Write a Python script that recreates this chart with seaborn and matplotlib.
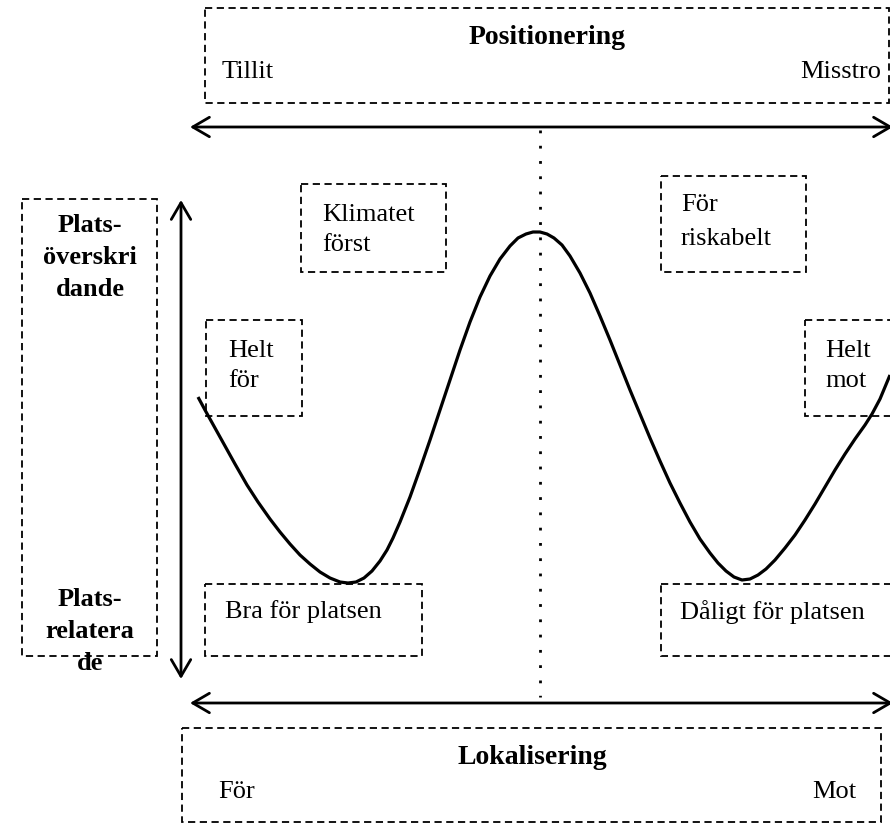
import matplotlib
matplotlib.use("Agg")
import matplotlib.pyplot as plt
import seaborn as sns
from matplotlib.patches import Rectangle, FancyArrowPatch

sns.set_theme(style="white")
plt.rcParams['font.family'] = ['Liberation Serif', 'DejaVu Serif']
plt.rcParams['text.color'] = 'black'

# Curve (pixel coordinates, y downward)
curve_x = [198, 205, 215, 225, 235, 247, 258, 270, 280, 290, 300, 310, 320, 330, 340,
           348, 356, 364, 372, 380, 387, 393, 400, 410, 420, 430, 440, 450, 460, 470,
           480, 490, 500, 510, 518, 526, 533, 540, 547, 554, 562, 570, 580, 590, 600,
           610, 620, 630, 640, 650, 660, 670, 680, 690, 700, 710, 718, 726, 734, 742,
           750, 758, 766, 775, 785, 795, 805, 815, 825, 835, 845, 855, 865, 872, 880,
           890]
curve_y = [397, 410, 428, 446, 464, 485, 502, 519, 532, 544, 555, 564, 572, 578, 582,
           583, 582, 578, 571, 561, 550, 538, 522, 497, 469, 440, 410, 380, 350, 322,
           297, 276, 259, 246, 238, 234, 232, 232, 234, 238, 245, 256, 273, 293, 316,
           340, 365, 390, 414, 438, 461, 483, 503, 522, 539, 553, 563, 571, 577, 580,
           579, 575, 569, 560, 548, 535, 520, 504, 487, 470, 454, 439, 425, 414, 399,
           375]

# Box labels
top_title = "Positionering"
top_left, top_right = "Tillit", "Misstro"
bottom_title = "Lokalisering"
bottom_left, bottom_right = "För", "Mot"
axis_top = "Plats-\növerskri\ndande"
axis_bottom = "Plats-\nrelatera\nde"
quadrant_labels = ["Klimatet\nförst", "Helt\nför", "För\nriskabelt", "Helt\nmot",
                   "Bra för platsen", "Dåligt för platsen"]

fig = plt.figure(figsize=(8.9, 8.25), dpi=100)
ax = fig.add_axes([0, 0, 1, 1])

sns.lineplot(x=curve_x, y=curve_y, sort=False, ax=ax, color="black", lw=2.3,
             estimator=None, solid_joinstyle="round", solid_capstyle="butt")

ax.set_xlim(0, 890)
ax.set_ylim(825, 0)
ax.axis("off")

def dbox(x0, y0, x1, y1):
    ax.add_patch(Rectangle((x0, y0), x1 - x0, y1 - y0, fill=False, ec="black",
                           lw=1.3, ls=(0, (4, 2.5)), clip_on=False))

# dashed boxes
dbox(205, 8, 889, 103)          # Positionering
dbox(182, 728, 881, 822)        # Lokalisering
dbox(22, 199, 157, 656)         # left axis labels
dbox(301, 184, 446, 272)        # Klimatet först
dbox(206, 320, 302, 416)        # Helt för
dbox(661, 176, 806, 272)        # För riskabelt
dbox(805, 320, 900, 416)        # Helt mot
dbox(205, 584, 422, 656)        # Bra för platsen
dbox(661, 584, 900, 656)        # Dåligt för platsen

# arrows
def arrow(p0, p1):
    ax.add_patch(FancyArrowPatch(p0, p1, arrowstyle="<->,head_length=12,head_width=7",
                                 lw=2.0, color="black", mutation_scale=1,
                                 shrinkA=0, shrinkB=0, clip_on=False))

arrow((190, 127), (893, 127))
arrow((190, 703), (893, 703))
arrow((181, 200), (181, 679))

# dotted vertical line
ax.plot([540, 540], [130, 697], color="black", lw=2.0, ls=(0, (1, 4.5)))

fs = 19
ax.text(547, 37, top_title, ha="center", va="center", fontsize=20, fontweight="bold")
ax.text(222, 72, top_left, ha="left", va="center", fontsize=fs)
ax.text(881, 72, top_right, ha="right", va="center", fontsize=fs)
ax.text(532, 757, bottom_title, ha="center", va="center", fontsize=20, fontweight="bold")
ax.text(218, 792, bottom_left, ha="left", va="center", fontsize=fs)
ax.text(856, 792, bottom_right, ha="right", va="center", fontsize=fs)

ax.text(90, 258, axis_top, ha="center", va="center", fontsize=fs, fontweight="bold",
        linespacing=1.5)
ax.text(90, 631, axis_bottom, ha="center", va="center", fontsize=fs, fontweight="bold",
        linespacing=1.5)

label_pos = [(322, 230), (228, 366), (681, 222), (825, 366), (225, 612), (680, 612)]
label_ls = [1.5, 1.45, 1.75, 1.45, 1.45, 1.45]
for (lx, ly), lab, ls in zip(label_pos, quadrant_labels, label_ls):
    ax.text(lx, ly, lab, ha="left", va="center", fontsize=fs, linespacing=ls)

fig.savefig("out.png", dpi=100)
